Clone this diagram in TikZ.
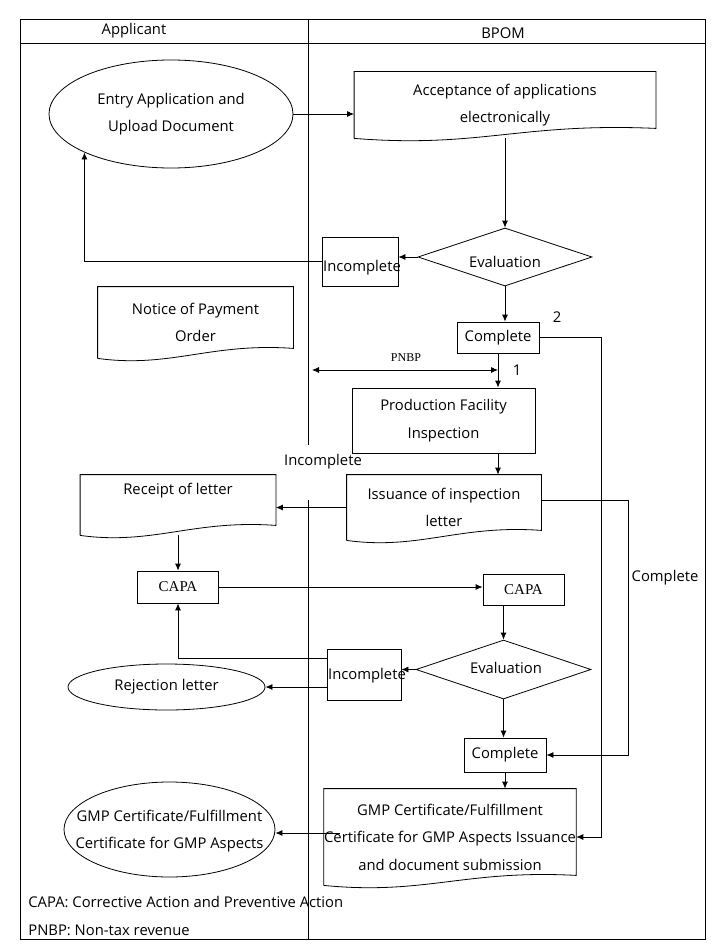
\documentclass[tikz,border=0pt]{standalone}
\usepackage{fontspec}
\setmainfont{Open Sans}
\newfontfamily\serifA{Liberation Serif}
\usetikzlibrary{shapes.geometric,arrows.meta,calc}
\newcommand\wavy[1]{\draw (#1.south west) -- (#1.north west) -- (#1.north east) -- ($(#1.south east)+(0,-10)$) .. controls ($(#1.south)+(15,-16)$) and ($(#1.south)+(-25,10)$) .. (#1.south west);}
\begin{document}
\begin{tikzpicture}[x=1pt,y=-1pt,line width=0.8pt,
  txt/.style={font=\fontsize{14.8}{27.5}\selectfont, align=center, inner sep=0pt},
  box/.style={txt, draw, rectangle},
  doc/.style={txt, rectangle},
  ell/.style={txt, draw, ellipse},
  dia/.style={txt, draw, diamond},
  arr/.style={-{Latex[length=7pt,width=6pt]}}]
\useasboundingbox (0,0) rectangle (718,950);
% frame
\draw[line width=0.6pt] (20,19) rectangle (705,939);
\draw[line width=0.6pt] (20,43) -- (705,43);
\draw[line width=0.6pt] (308,19) -- (308,445);
\draw[line width=0.6pt] (308,500) -- (308,939);
\node[txt] (hA) at (134,31) {Applicant};
\node[txt] (hB) at (503,33) {BPOM};
% nodes
\node[ell, minimum width=244, minimum height=108] (entry) at (171,114) {Entry Application and\\Upload Document};
\node[doc, minimum width=301, minimum height=66] (acc) at (505,105) {Acceptance of applications\\electronically};
\wavy{acc}
\node[dia, minimum width=174, minimum height=58] (eval1) at (505,257) {};
\node[txt] (eval1t) at (505,262) {Evaluation};
\node[box, minimum width=76, minimum height=49] (inc1) at (360,261.5) {};
\node[txt] (inc1t) at (362,268) {Incomplete};
\node[doc, minimum width=195, minimum height=71] (notice) at (195.5,322.5) {Notice of Payment\\Order};
\wavy{notice}
\node[box, minimum width=82, minimum height=31] (comp1) at (498,337.5) {Complete};
\node[box, minimum width=183, minimum height=65] (prod) at (443.5,420.5) {Production Facility\\Inspection};
\node[doc, minimum width=194, minimum height=65] (iss) at (444,507.5) {Issuance of inspection\\letter};
\wavy{iss}
\node[doc, minimum width=195, minimum height=60] (rec) at (178,505) {Receipt of letter\\[4pt]};
\wavy{rec}
\node[box, minimum width=81, minimum height=32, font=\serifA\fontsize{15}{17}\selectfont] (capa1) at (178,587) {CAPA};
\node[box, minimum width=81, minimum height=31, font=\serifA\fontsize{15}{17}\selectfont] (capa2) at (523.5,589.5) {CAPA};
\node[dia, minimum width=175, minimum height=59] (eval2) at (503.5,669.5) {};
\node[txt] (eval2t) at (506,668) {Evaluation};
\node[box, minimum width=74, minimum height=51] (inc2) at (364,674.5) {};
\node[txt] (inc2t) at (367,676) {Incomplete};
\node[ell, minimum width=197, minimum height=46] (rej) at (166.5,687) {Rejection letter};
\node[box, minimum width=82, minimum height=34] (comp2) at (505,755) {Complete};
\node[doc, minimum width=234, minimum height=96] (gmpdoc) at (450,837) {GMP Certificate/Fulfillment\\Certificate for GMP Aspects Issuance\\and document submission};
\wavy{gmpdoc}
\node[ell, minimum width=211, minimum height=95] (gmpell) at (169.5,829.5) {};
\node[txt] (gmpt) at (169.5,831) {GMP Certificate/Fulfillment\\Certificate for GMP Aspects};
% labels
\node[txt] (l2) at (557,317) {2};
\node[txt] (l1) at (517,370) {1};
\node[txt, font=\serifA\fontsize{12}{14}\selectfont] (lp) at (406,358) {PNBP};
\node[txt] (lc) at (665,578) {Complete};
\node[txt] (li) at (323,462) {Incomplete};
\node[txt, anchor=west] (n1) at (28,902) {CAPA: Corrective Action and Preventive Action};
\node[txt, anchor=west] (n2) at (28,930) {PNBP: Non-tax revenue};
% connectors
\draw[arr] (entry.east) -- (acc.west |- entry.east);
\draw[arr] (acc.south) -- (eval1.north);
\draw[arr] (eval1.west) -- (inc1.east |- eval1.west);
\draw[arr] (inc1.west) -| (entry.south west);
\draw[arr] (eval1.south) -- (eval1.south |- comp1.north);
\draw[arr] (comp1.east) -- ++(62,0) |- (gmpdoc.east);
\draw[arr] (comp1.south) -- (comp1.south |- prod.north);
\coordinate (pl) at (312,370);
\draw[{Latex[length=7pt,width=6pt]}-{Latex[length=7pt,width=6pt]}] (pl) -- (comp1.south |- pl);
\draw[arr] (comp1.south |- prod.south) -- (comp1.south |- iss.north);
\draw[arr] (iss.west) -- (rec.east |- iss.west);
\draw[arr] ($(iss.east)+(0,-7)$) -- ++(87,0) |- (comp2.east);
\draw[arr] (rec.south) -- (capa1.north);
\draw[arr] (capa1.east) -- (capa2.west |- capa1.east);
\draw[arr] (eval2.north |- capa2.south) -- (eval2.north);
\draw[arr] (eval2.west) -- (inc2.east |- eval2.west);
\draw[arr] ($(inc2.west)+(0,-16)$) -| (capa1.south);
\draw[arr] (rej.east -| inc2.west) -- (rej.east);
\draw[arr] (eval2.south) -- (eval2.south |- comp2.north);
\draw[arr] (comp2.south) -- (comp2.south |- gmpdoc.north);
\coordinate (gs) at ($(gmpdoc.west)+(16,-4)$);
\draw[arr] (gs) -- (gmpell.east |- gs);
\end{tikzpicture}
\end{document}
